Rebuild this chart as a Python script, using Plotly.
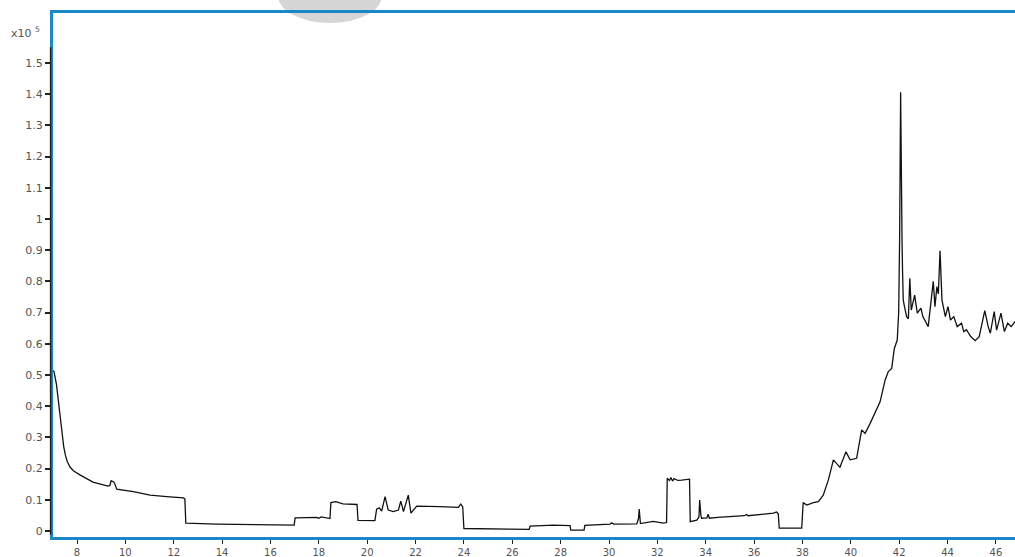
import plotly.graph_objects as go

# Retention time (min)
rt = [7.00, 7.05, 7.15, 7.23, 7.37, 7.45, 7.52, 7.60, 7.71, 7.85, 8.12, 8.66, 9.28, 9.36, 9.41, 9.52, 9.57, 9.64,
      10.33, 11.02, 11.71, 12.40, 12.46, 12.50, 13.78, 15.85, 16.98, 17.02, 17.50, 17.90,
      18.00, 18.10, 18.46, 18.50, 18.70, 19.00, 19.58, 19.62, 20.32, 20.39, 20.50, 20.60,
      20.74, 20.87, 21.08, 21.29, 21.39, 21.50, 21.70, 21.81, 21.91, 22.05, 23.00, 23.77,
      23.87, 23.95, 24.00, 25.90, 26.70, 26.74, 27.70, 28.39, 28.42, 28.97, 29.00, 30.04,
      30.10, 30.20, 31.15, 31.22, 31.25, 31.30, 31.83, 32.25, 32.38, 32.41, 32.50, 32.56,
      32.63, 32.69, 32.85, 33.00, 33.28, 33.33, 33.36, 33.63, 33.72, 33.75, 33.80, 33.83,
      34.05, 34.10, 34.15, 34.50, 35.60, 35.69, 35.75, 36.80, 36.93, 37.00, 37.04, 37.97,
      38.03, 38.18, 38.45, 38.66, 38.86, 39.07, 39.28, 39.55, 39.80, 39.97, 40.24, 40.45,
      40.59, 40.80, 41.21, 41.42, 41.55, 41.69, 41.80, 41.92, 41.98, 42.02, 42.06, 42.09,
      42.12, 42.14, 42.17, 42.22, 42.31, 42.38, 42.44, 42.50, 42.64, 42.75, 42.90, 42.98,
      43.11, 43.20, 43.41, 43.48, 43.56, 43.62, 43.69, 43.77, 43.91, 44.02, 44.12, 44.26,
      44.40, 44.58, 44.67, 44.78, 44.96, 45.14, 45.31, 45.41, 45.54, 45.68, 45.77, 45.93,
      46.03, 46.21, 46.35, 46.49, 46.63, 46.80]

# Abundance (x10^5)
abundance = [0.515, 0.510, 0.470, 0.420, 0.314, 0.270, 0.243, 0.222, 0.205, 0.193, 0.180, 0.157, 0.144, 0.146, 0.161, 0.157, 0.150, 0.134,
             0.126, 0.115, 0.110, 0.106, 0.103, 0.025, 0.022, 0.020, 0.019, 0.042, 0.042, 0.044,
             0.041, 0.045, 0.040, 0.091, 0.094, 0.087, 0.085, 0.034, 0.033, 0.070, 0.074, 0.064,
             0.110, 0.067, 0.062, 0.067, 0.096, 0.062, 0.115, 0.057, 0.067, 0.080, 0.078, 0.076,
             0.086, 0.078, 0.008, 0.005, 0.005, 0.016, 0.019, 0.017, 0.003, 0.003, 0.018, 0.022,
             0.026, 0.022, 0.023, 0.040, 0.070, 0.024, 0.031, 0.025, 0.027, 0.169, 0.162, 0.171,
             0.160, 0.168, 0.162, 0.163, 0.167, 0.166, 0.030, 0.035, 0.045, 0.099, 0.050, 0.041,
             0.042, 0.054, 0.041, 0.044, 0.049, 0.053, 0.049, 0.057, 0.061, 0.055, 0.009, 0.009,
             0.091, 0.083, 0.091, 0.094, 0.115, 0.163, 0.228, 0.204, 0.254, 0.228, 0.233, 0.324,
             0.313, 0.345, 0.414, 0.484, 0.511, 0.521, 0.585, 0.612, 0.700, 0.950, 1.406, 1.000,
             0.920, 0.830, 0.740, 0.719, 0.687, 0.680, 0.810, 0.708, 0.756, 0.698, 0.714, 0.687,
             0.666, 0.655, 0.800, 0.719, 0.783, 0.760, 0.898, 0.740, 0.687, 0.719, 0.676, 0.687,
             0.655, 0.666, 0.639, 0.645, 0.623, 0.610, 0.623, 0.655, 0.706, 0.655, 0.634, 0.703,
             0.644, 0.698, 0.639, 0.666, 0.655, 0.672]

x_ticks = [8, 10, 12, 14, 16, 18, 20, 22, 24, 26, 28, 30, 32, 34, 36, 38, 40, 42, 44, 46]
y_ticks = [0, 0.1, 0.2, 0.3, 0.4, 0.5, 0.6, 0.7, 0.8, 0.9, 1, 1.1, 1.2, 1.3, 1.4, 1.5]
y_labels = ["0", "0.1", "0.2", "0.3", "0.4", "0.5", "0.6", "0.7", "0.8", "0.9", "1",
            "1.1", "1.2", "1.3", "1.4", "1.5"]

BLUE = "#1a87c9"
FONT = dict(family="DejaVu Sans", size=11, color="#555555")
XFONT = dict(family="DejaVu Sans", size=10, color="#555555")

fig = go.Figure()
fig.add_trace(go.Scatter(x=rt, y=abundance, mode="lines",
                         line=dict(color="#111111", width=1.3),
                         showlegend=False, hoverinfo="x+y"))

fig.update_layout(
    width=1015, height=557,
    margin=dict(l=53, r=0, t=13, b=20, autoexpand=False),
    paper_bgcolor="white", plot_bgcolor="white",
    font=FONT,
    xaxis=dict(range=[7.007, 46.79], tickmode="array", tickvals=x_ticks,
               showgrid=False, zeroline=False,
               showline=True, linecolor=BLUE, linewidth=3, mirror=True,
               ticks="outside", ticklen=4, tickcolor="#222222", tickwidth=1,
               ticklabelstandoff=0,
               tickfont=XFONT, automargin=False),
    yaxis=dict(range=[-0.0192, 1.660], tickmode="array", tickvals=y_ticks, ticktext=y_labels,
               showgrid=False, zeroline=False,
               showline=True, linecolor=BLUE, linewidth=3,
               ticks="outside", ticklen=5, tickcolor="#222222", tickwidth=1.5,
               tickfont=FONT, automargin=False),
    shapes=[
        dict(type="line", xref="paper", yref="y", x0=-0.0025, x1=-0.0025, y0=-0.012, y1=1.55,
             line=dict(color="#222222", width=1.5), layer="above"),
        dict(type="circle", xref="paper", yref="paper", x0=0.234, x1=0.342, y0=0.981, y1=1.085,
             fillcolor="#d6d6d6", line=dict(width=0), layer="below"),
    ],
    annotations=[
        dict(text="x10 <sup>5</sup>", xref="paper", yref="paper", x=-0.046, y=0.963,
             xanchor="left", yanchor="middle", showarrow=False,
             font=dict(family="DejaVu Sans", size=11, color="#555555")),
    ],
)

fig.write_html("out.html")
